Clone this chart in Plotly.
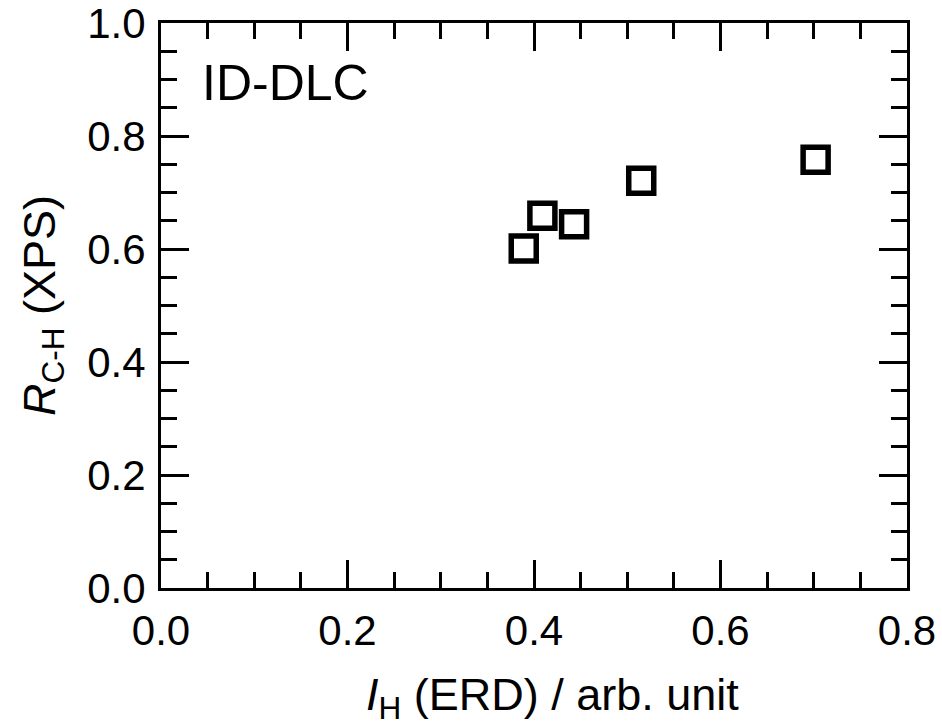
import plotly.graph_objects as go

# Data
ih_erd = [0.389, 0.409, 0.443, 0.515, 0.702]
r_ch_xps = [0.601, 0.659, 0.644, 0.721, 0.758]

x_ticks = [0.0, 0.2, 0.4, 0.6, 0.8]
x_tick_labels = ["0.0", "0.2", "0.4", "0.6", "0.8"]
y_ticks = [0.0, 0.2, 0.4, 0.6, 0.8, 1.0]
y_tick_labels = ["0.0", "0.2", "0.4", "0.6", "0.8", "1.0"]

FONT = "Liberation Sans, Arial, sans-serif"

fig = go.Figure()
fig.add_trace(go.Scatter(
    x=ih_erd, y=r_ch_xps, mode="markers",
    marker=dict(symbol="square-open", size=25, color="black",
                line=dict(width=5.5, color="black")),
    showlegend=False,
))

axis_common = dict(
    showline=True, linecolor="black", linewidth=3, mirror="ticks",
    ticks="inside", ticklen=28, tickwidth=3, tickcolor="black",
    showgrid=False, zeroline=False, automargin=False,
    ticklabeloverflow="allow",
    tickfont=dict(family=FONT, size=42, color="black"),
    minor=dict(ticks="inside", ticklen=16, tickwidth=3, tickcolor="black", dtick=0.05, showgrid=False),
)

fig.update_xaxes(
    range=[0, 0.8], tickvals=x_ticks, ticktext=x_tick_labels,
    ticklabelstandoff=4,
    **axis_common,
)
fig.update_yaxes(
    range=[0, 1.0], tickvals=y_ticks, ticktext=y_tick_labels,
    title=dict(text="<i>R</i><sub>C-H</sub> (XPS)",
               font=dict(family=FONT, size=45, color="black"), standoff=18),
    ticklabelstandoff=4,
    **axis_common,
)

# x-axis title (placed as annotation to match the reference's slightly right-shifted position)
fig.add_annotation(
    x=0.525, y=-0.193, xref="paper", yref="paper", xanchor="center", yanchor="middle",
    text="<i>I</i><sub>H</sub> (ERD) / arb. unit", showarrow=False,
    font=dict(family=FONT, size=45, color="black"),
)

fig.add_annotation(
    x=0.052, y=0.947, xref="paper", yref="paper", xanchor="left", yanchor="top",
    text="ID-DLC", showarrow=False,
    font=dict(family=FONT, size=50, color="black"),
)

fig.update_layout(
    width=942, height=726,
    margin=dict(l=161, r=35, t=23, b=138),
    plot_bgcolor="white", paper_bgcolor="white",
)

fig.write_html("out.html")
